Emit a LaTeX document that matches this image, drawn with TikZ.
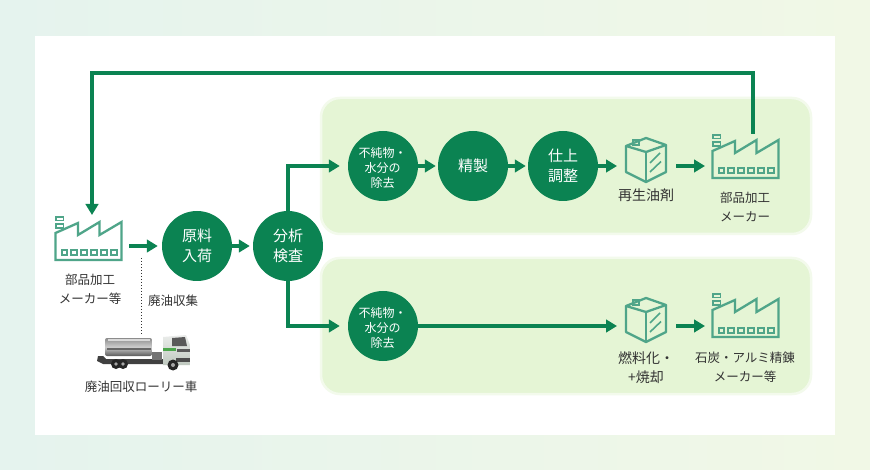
\documentclass[tikz,border=0pt]{standalone}
\usepackage{fontspec}
\setmainfont{Noto Sans CJK JP}
\usetikzlibrary{arrows.meta,calc}
\definecolor{gr}{HTML}{0B8352}
\definecolor{ic}{HTML}{4FA589}
\definecolor{pan}{HTML}{E5F5D5}
\definecolor{bgl}{HTML}{E5F3EE}
\definecolor{bgr}{HTML}{F1F8E6}
\definecolor{tx}{HTML}{333333}
\tikzset{
 x=1pt,y=-1pt,
 conn/.style={draw=gr,line width=4pt,-{Triangle[length=11pt,width=12.5pt]}},
 proc/.style={circle,fill=gr,minimum size=70pt,inner sep=0pt,text=white,align=center,font=\fontsize{15}{19.5}\selectfont},
 proct/.style={inner sep=0pt,text=white,align=center,font=\fontsize{12}{15}\selectfont},
 lab/.style={text=tx,align=center,inner sep=0pt,font=\fontsize{12.5}{19}\selectfont},
 labb/.style={lab,font=\fontsize{14}{19}\selectfont},
 icl/.style={draw=ic,line width=2.3pt,line join=miter},
 panel/.style={fill=pan,draw=pan!45,line width=2.5pt,rounded corners=19pt},
 factory/.pic={
  \draw[icl] (0,17)--(22.5,7)--(22.5,19)--(44,6)--(44,19)--(66,6)--(66,44)--(0,44)--cycle;
  \draw[icl,line width=1.8pt] (0.7,0.7) rectangle (8,4.5) (0.7,8) rectangle (8,12);
  \foreach \i in {0,...,5}{\draw[icl,line width=2pt] ({6+\i*9.9},34.5) rectangle ({11.5+\i*9.9},39.5);}
 },
 canister/.pic={
  \draw[icl,line join=round] (0,8)--(20,0)--(40,7)--(20,14)--cycle;
  \draw[icl,line join=round] (0,8)--(0,34)--(20,44)--(40,34)--(40,7);
  \draw[icl] (20,14)--(20,44);
  \draw[icl,line width=1.8pt] (7,2) rectangle (13,7);
  \draw[icl,line width=1.6pt] (24,25)--(34,15) (24,34)--(35,23.5);
 }
}
\begin{document}
\begin{tikzpicture}
\useasboundingbox (0,0) rectangle (870,470);
\shade[left color=bgl,right color=bgr] (0,0) rectangle (870,470);
\fill[white] (35,36) rectangle (835,435);
\path[panel] (321,98) rectangle (811,234);
\path[panel] (321,258) rectangle (811,394);

% nodes
\node[proc] (genryo) at (197,246) {原料\\入荷};
\node[proc] (bunseki) at (288,246) {分析\\検査};
\node[proc] (jo1) at (383,166) {};
\node[proct] (jo1t) at (382.5,168) {不純物・\\水分の\\除去};
\node[proc] (seisei) at (473,166) {精製};
\node[proc] (shiage) at (563,166) {仕上\\調整};
\node[proc] (jo2) at (383,326) {};
\node[proct] (jo2t) at (382.5,328) {不純物・\\水分の\\除去};

\pic at (55.5,216) {factory};
\pic at (712.5,134) {factory};
\pic at (712.5,293) {factory};
\pic at (626,138) {canister};
\pic at (626,298) {canister};

\coordinate (fa) at (129,246);
\coordinate (fb) at (676,166);
\coordinate (fc) at (705,166);
\coordinate (fd) at (676,326);
\coordinate (fe) at (705,326);
\coordinate (ca) at (617,166);
\coordinate (cb) at (617,326);
\coordinate (top) at (753,134);
\coordinate (back) at (92,215);
\coordinate (dota) at (141,258);
\coordinate (dotb) at (141,334);

% connectors
\draw[conn,shorten >=4pt] (fa) -- (genryo);
\draw[conn,shorten >=3pt] (genryo) -- (bunseki);
\draw[conn,shorten >=8pt] (bunseki.north) |- (jo1.west);
\draw[conn,shorten >=8pt] (bunseki.south) |- (jo2.west);
\draw[conn,shorten >=2pt] (jo1) -- (seisei);
\draw[conn,shorten >=2pt] (seisei) -- (shiage);
\draw[conn] (shiage) -- (ca);
\draw[conn] (fb) -- (fc);
\draw[conn] (fd) -- (fe);
\draw[conn] (jo2) -- (cb);
\draw[conn] (top) -- (753,73) -- (92,73) -- (back);
\draw[line width=1pt,dotted,tx] (dota) -- (dotb);

% labels
\node[lab] (l1) at (90,289) {部品加工\\メーカー等};
\node[lab] (l2) at (173,301) {廃油収集};
\node[lab] (l3) at (141,387) {廃油回収ローリー車};
\node[labb] (l4) at (646,195) {再生油剤};
\node[lab] (l5) at (745,206.5) {部品加工\\メーカー};
\node[labb] (l6) at (646,368) {燃料化・\\+焼却};
\node[lab] (l7) at (745,367) {石炭・アルミ精錬\\メーカー等};

% truck
\fill[black!75] (98,356) -- (103,356) -- (106,359) -- (165,359) -- (165,364) -- (103,364) -- (97,361) -- cycle;
\shade[top color=black!45,bottom color=black!65,middle color=black!20,rounded corners=2pt] (105,338) -- (152,338) -- (152,356) -- (105,356) -- cycle;
\fill[black!15] (108,339) rectangle (150,341);
\fill[black!60] (107,348) rectangle (151,350);
\fill[black!55] (152,352) rectangle (162,360);
\shade[top color=green!8!black!8,bottom color=green!15!black!25] (163,337) -- (186,335) -- (190,345) -- (190,365) -- (163,365) -- cycle;
\fill[black!65] (172,338) -- (185,337) -- (187,346) -- (172,346) -- cycle;
\fill[green!50!black!70] (163,348) rectangle (176,351);
\fill[black!65] (177,349) rectangle (190,352);
\fill[black!70] (176,358) rectangle (190,362);
\fill[black!85] (116,364) circle (5pt) (123,364) circle (5pt) (173,365) circle (5.5pt);
\fill[black!35] (116,364) circle (1.8pt) (123,364) circle (1.8pt) (173,365) circle (2pt);
\end{tikzpicture}
\end{document}
